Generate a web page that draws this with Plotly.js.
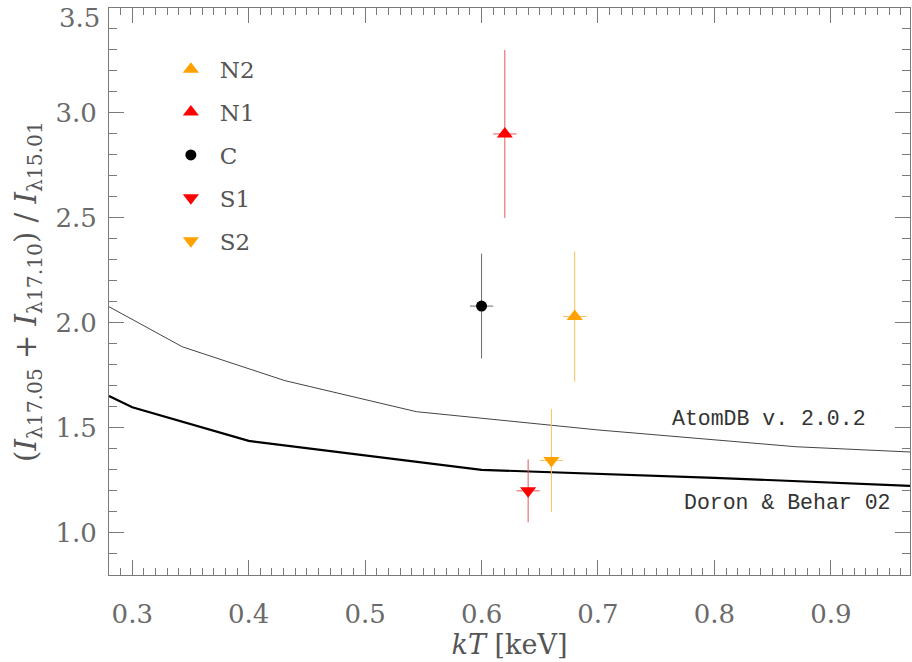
<!DOCTYPE html>
<html>
<head>
<meta charset="utf-8">
<script src="https://cdn.plot.ly/plotly-3.0.1.min.js"></script>
<style>
  html, body { margin: 0; padding: 0; background: #fff; }
  #chart { width: 912px; height: 662px; }
</style>
</head>
<body>
<div id="chart"></div>
<script>
// Line ratio (17.05 + 17.10) / 15.01 versus temperature

// Model curves
const atomdbKT    = [0.28, 0.343, 0.431, 0.544, 0.70, 0.87, 0.968];
const atomdbRatio = [2.077, 1.886, 1.725, 1.577, 1.49, 1.41, 1.385];

const doronKT    = [0.28, 0.30, 0.40, 0.60, 0.80, 0.968];
const doronRatio = [1.652, 1.598, 1.438, 1.30, 1.262, 1.224];

// Measured regions
const regionNames  = ['N2', 'N1', 'C', 'S1', 'S2'];
const regionKT     = [0.68, 0.62, 0.60, 0.64, 0.66];
const regionKTErr  = [0.01, 0.01, 0.01, 0.01, 0.01];
const regionRatio  = [2.03, 2.90, 2.08, 1.20, 1.345];
const regionErr    = [0.31, 0.40, 0.25, 0.15, 0.245];

// Axis tick labels
const xTicks = [0.3, 0.4, 0.5, 0.6, 0.7, 0.8, 0.9];
const xTickText = ['0.3', '0.4', '0.5', '0.6', '0.7', '0.8', '0.9'];
const yTicks = [1.0, 1.5, 2.0, 2.5, 3.0, 3.5];
const yTickText = ['1.0', '1.5', '2.0', '2.5', '3.0', '3.5'];

const regionColors    = ['#ffa200', '#ff0000', '#000000', '#ff0000', '#ffa200'];
const regionErrColors = ['#f9c15a', '#e8575a', '#6a6a6a', '#e8575a', '#f9c15a'];
const regionSymbols   = ['triangle-up', 'triangle-up', 'circle', 'triangle-down', 'triangle-down'];
const regionSizes     = [14, 14, 11, 14, 14];

const traces = [
  {
    x: atomdbKT, y: atomdbRatio, mode: 'lines', showlegend: false,
    line: { color: '#444', width: 1 }, hoverinfo: 'skip'
  },
  {
    x: doronKT, y: doronRatio, mode: 'lines', showlegend: false,
    line: { color: '#000', width: 2.2 }, hoverinfo: 'skip'
  }
];

regionNames.forEach((name, i) => {
  traces.push({
    name: name,
    legendgroup: name,
    x: [regionKT[i]],
    y: [regionRatio[i]],
    mode: 'markers',
    marker: { symbol: regionSymbols[i], size: regionSizes[i], color: regionColors[i] },
    error_y: { type: 'data', array: [regionErr[i]], color: regionErrColors[i], thickness: 1, width: 0 },
    error_x: { type: 'data', array: [regionKTErr[i]], color: regionErrColors[i], thickness: 1, width: 0 }
  });
});

const axisColor = '#7a7a7a';
const tickFont = { family: 'DejaVu Serif', size: 26, color: '#6a6a6a' };

// The topmost label sits at the frame edge; it is drawn just below the edge
// so it stays on the page.
const topIdx = yTicks.length - 1;
const yTickTextShown = yTickText.map((t, i) => (i === topIdx ? '' : t));

const layout = {
  width: 912, height: 662,
  paper_bgcolor: '#fff', plot_bgcolor: '#fff',
  margin: { l: 109, r: 2, t: 8, b: 87 },
  showlegend: true,
  legend: {
    x: 0.066, y: 0.93, xanchor: 'left', yanchor: 'top',
    bgcolor: 'rgba(0,0,0,0)',
    font: { family: 'DejaVu Serif', size: 23, color: '#555' },
    tracegroupgap: 10,
    itemwidth: 48
  },
  xaxis: {
    range: [0.28, 0.968],
    tickvals: xTicks,
    ticktext: xTickText,
    ticks: 'inside', ticklen: 15, tickwidth: 1, tickcolor: axisColor,
    minor: { dtick: 0.01, tick0: 0, ticks: 'inside', ticklen: 7, tickwidth: 1, tickcolor: axisColor, showgrid: false },
    showline: true, linecolor: axisColor, linewidth: 1, mirror: 'ticks',
    showgrid: false, zeroline: false,
    tickfont: tickFont,
    ticklabelstandoff: 16,
    title: {
      text: '<i>kT</i> [keV]',
      font: { family: 'DejaVu Serif', size: 27, color: '#555' },
      standoff: 1
    }
  },
  yaxis: {
    range: [0.799, 3.5],
    tickvals: yTicks,
    ticktext: yTickTextShown,
    ticks: 'inside', ticklen: 15, tickwidth: 1, tickcolor: axisColor,
    minor: { dtick: 0.1, tick0: 0, ticks: 'inside', ticklen: 8, tickwidth: 1, tickcolor: axisColor, showgrid: false },
    showline: true, linecolor: axisColor, linewidth: 1, mirror: 'ticks',
    showgrid: false, zeroline: false,
    tickfont: tickFont,
    ticklabelstandoff: 6,
    title: {
      text: '(<i>I</i><sub>λ17.05</sub> + <i>I</i><sub>λ17.10</sub>) / <i>I</i><sub>λ15.01</sub>',
      font: { family: 'DejaVu Serif', size: 29, color: '#555' },
      standoff: 10
    }
  },
  annotations: [
    {
      xref: 'paper', yref: 'y', x: 0, y: yTicks[topIdx],
      xanchor: 'right', yanchor: 'top', xshift: -7, yshift: 7, showarrow: false,
      text: yTickText[topIdx],
      font: tickFont
    },
    {
      xref: 'paper', yref: 'paper', x: 0.948, y: 0.275,
      xanchor: 'right', yanchor: 'middle', showarrow: false,
      text: 'AtomDB v. 2.0.2',
      font: { family: 'Liberation Mono', size: 21.5, color: '#333' }
    },
    {
      xref: 'paper', yref: 'paper', x: 0.978, y: 0.127,
      xanchor: 'right', yanchor: 'middle', showarrow: false,
      text: 'Doron &amp; Behar 02',
      font: { family: 'Liberation Mono', size: 21.5, color: '#333' }
    }
  ]
};

Plotly.newPlot('chart', traces, layout, { displayModeBar: false, staticPlot: true });
</script>
</body>
</html>
